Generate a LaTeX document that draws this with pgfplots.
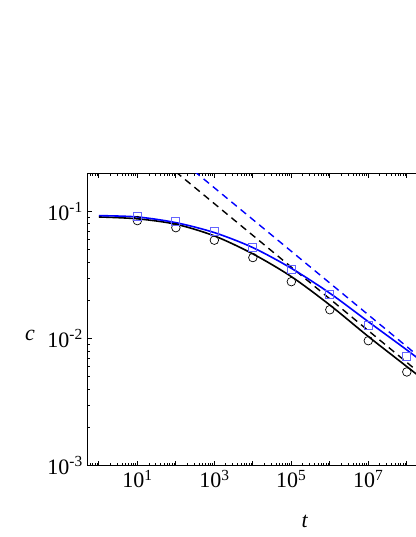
\documentclass[border=0pt]{standalone}
\usepackage{fontspec}
\setmainfont{Liberation Serif}
\usepackage{pgfplots}
\pgfplotsset{compat=1.18}

\definecolor{sqblue}{RGB}{100,100,255}

\begin{document}
\begin{tikzpicture}
\begin{axis}[
    name=ax,
    xmode=log, ymode=log,
    scale only axis,
    width=358pt, height=292.3pt,
    xmin=0.5, xmax=1e9,
    ymin=1e-3, ymax=0.2,
    axis line style={line width=1.1pt},
    every tick/.style={black, line width=0.9pt},
    tick align=inside,
    major tick length=5pt,
    minor tick length=3pt,
    xtick={1,10,100,1e3,1e4,1e5,1e6,1e7,1e8},
    xticklabels={,10\textsuperscript{1},,10\textsuperscript{3},,10\textsuperscript{5},,10\textsuperscript{7},},
    minor xtick={0.6,0.7,0.8,0.9,2,3,4,5,6,7,8,9,20,30,40,50,60,70,80,90,
      200,300,400,500,600,700,800,900,2000,3000,4000,5000,6000,7000,8000,9000,
      2e4,3e4,4e4,5e4,6e4,7e4,8e4,9e4,2e5,3e5,4e5,5e5,6e5,7e5,8e5,9e5,
      2e6,3e6,4e6,5e6,6e6,7e6,8e6,9e6,2e7,3e7,4e7,5e7,6e7,7e7,8e7,9e7,
      2e8,3e8,4e8,5e8,6e8,7e8,8e8,9e8},
    ytick={1e-3,1e-2,1e-1},
    yticklabels={10\textsuperscript{-3},10\textsuperscript{-2},10\textsuperscript{-1}},
    minor ytick={2e-3,3e-3,4e-3,5e-3,6e-3,7e-3,8e-3,9e-3,
      2e-2,3e-2,4e-2,5e-2,6e-2,7e-2,8e-2,9e-2,2e-1},
    tick label style={font=\fontsize{22}{26}\selectfont},
    xticklabel style={yshift=-1pt},
    yticklabel style={xshift=-1pt},
    xlabel={\textit{t}},
    ylabel={\textit{c}},
    label style={font=\fontsize{22}{26}\selectfont},
    xlabel style={at={(axis description cs:0.608,-0.192)}, anchor=center},
    ylabel style={at={(axis description cs:-0.16,0.447)}, anchor=center, rotate=-90},
]
% dashed power-law asymptotes
\addplot[black, line width=1.4pt, dash pattern=on 7pt off 5pt] coordinates {(100,0.2055) (1e9,0.00366)};
\addplot[blue, line width=1.4pt, dash pattern=on 7pt off 5pt] coordinates {(100,0.274) (1e9,0.00487)};
% solid fits
\addplot[black, line width=1.6pt, smooth] coordinates {
  (1,0.0908) (10,0.0878) (100,0.0796) (1e3,0.0644) (1e4,0.0465)
  (1e5,0.0308) (1e6,0.0184) (1e7,0.0104) (1e8,0.00603) (1e9,0.0035)};
\addplot[blue, line width=1.6pt, smooth] coordinates {
  (1,0.093) (10,0.0908) (100,0.0819) (1e3,0.0684) (1e4,0.0521)
  (1e5,0.0358) (1e6,0.0228) (1e7,0.0136) (1e8,0.00815) (1e9,0.0048)};
% data
\addplot[only marks, mark=o, mark size=4.3pt, black, line width=0.7pt] coordinates {
  (10,0.085) (100,0.0748) (1e3,0.0596) (1e4,0.0435) (1e5,0.0281)
  (1e6,0.0169) (1e7,0.00964) (1e8,0.00547)};
\addplot[only marks, mark=square, mark size=4pt, sqblue, line width=0.9pt] coordinates {
  (10,0.0914) (100,0.083) (1e3,0.0692) (1e4,0.0525) (1e5,0.0352)
  (1e6,0.0221) (1e7,0.01274) (1e8,0.00722)};
\end{axis}
\pgfresetboundingbox
\useasboundingbox (ax.south west) ++(-87.3pt,-71.3pt) rectangle ++(415pt,537pt);
\end{tikzpicture}
\end{document}
